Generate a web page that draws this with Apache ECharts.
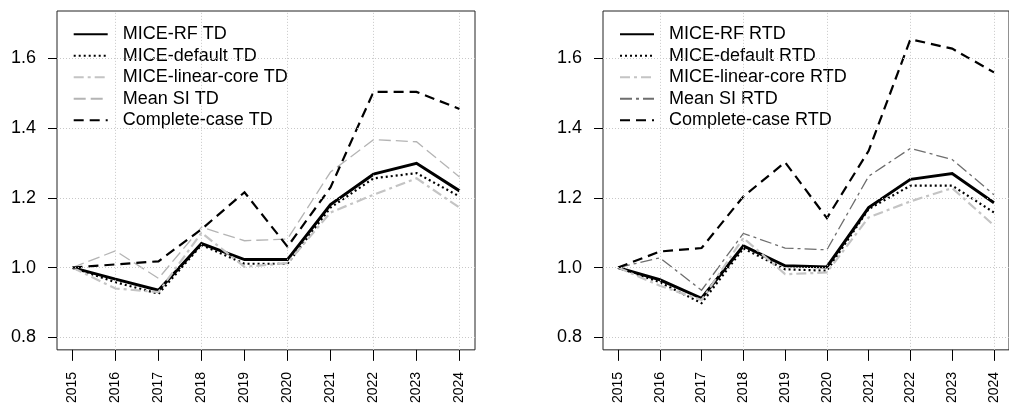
<!DOCTYPE html>
<html>
<head>
<meta charset="utf-8">
<script src="https://cdn.jsdelivr.net/npm/echarts@6/dist/echarts.min.js"></script>
<style>
html,body{margin:0;padding:0;background:#fff;}
#chart{width:1009px;height:406px;}
</style>
</head>
<body>
<div id="chart"></div>
<script>
const years = [2015, 2016, 2017, 2018, 2019, 2020, 2021, 2022, 2023, 2024];
const gridYears = [2016, 2018, 2020, 2022, 2024];
const yTicks = [0.8, 1.0, 1.2, 1.4, 1.6];

const namesTD = ['MICE-RF TD', 'MICE-default TD', 'MICE-linear-core TD', 'Mean SI TD', 'Complete-case TD'];
const namesRTD = ['MICE-RF RTD', 'MICE-default RTD', 'MICE-linear-core RTD', 'Mean SI RTD', 'Complete-case RTD'];

const tdRF       = [1.000, 0.967, 0.935, 1.069, 1.023, 1.023, 1.181, 1.268, 1.299, 1.220];
const tdDefault  = [1.000, 0.958, 0.925, 1.065, 1.011, 1.011, 1.172, 1.256, 1.271, 1.204];
const tdLinear   = [1.000, 0.940, 0.930, 1.100, 1.002, 1.013, 1.158, 1.209, 1.256, 1.172];
const tdMeanSI   = [1.000, 1.048, 0.969, 1.116, 1.077, 1.082, 1.274, 1.367, 1.361, 1.260];
const tdComplete = [1.000, 1.009, 1.018, 1.110, 1.216, 1.060, 1.230, 1.504, 1.504, 1.455];

const rtdRF       = [1.000, 0.965, 0.912, 1.062, 1.005, 1.002, 1.172, 1.253, 1.270, 1.186];
const rtdDefault  = [1.000, 0.958, 0.898, 1.055, 0.995, 0.991, 1.168, 1.235, 1.235, 1.158];
const rtdLinear   = [1.000, 0.948, 0.907, 1.085, 0.981, 0.986, 1.144, 1.190, 1.228, 1.121];
const rtdMeanSI   = [1.000, 1.028, 0.935, 1.098, 1.056, 1.051, 1.262, 1.342, 1.310, 1.209];
const rtdComplete = [1.000, 1.046, 1.056, 1.204, 1.302, 1.142, 1.335, 1.655, 1.628, 1.560];

const FONT = 'Arial, "Liberation Sans", sans-serif';
const styles = [
  {color: '#000000', width: 3, type: 'solid'},
  {color: '#000000', width: 2.2, type: [2, 3]},
  {color: '#c4c4c4', width: 2.2, type: [10, 4, 3, 4]},
  null,
  {color: '#000000', width: 2.2, type: [10, 6]}
];
const meanStyleTD = {color: '#b4b4b4', width: 1.3, type: [12, 5]};
const meanStyleRTD = {color: '#6e6e6e', width: 1.3, type: [12, 4, 3, 4]};

const pad = 0.36;
function xAxisFor(gi) {
  return {
    type: 'value', gridIndex: gi, min: years[0] - pad, max: years[years.length - 1] + pad,
    axisLine: {show: false},
    axisTick: {show: true, inside: false, length: 11, customValues: years, lineStyle: {color: '#000', width: 1}},
    axisLabel: {show: true, customValues: years, rotate: 90, margin: 22, color: '#000', fontSize: 14, fontFamily: FONT,
      formatter: v => String(v)},
    splitLine: {show: false}
  };
}
function yAxisFor(gi) {
  return {
    type: 'value', gridIndex: gi, min: 0.764, max: 1.736,
    axisLine: {show: false},
    axisTick: {show: true, inside: false, length: 9, customValues: yTicks, lineStyle: {color: '#000', width: 1}},
    axisLabel: {show: true, customValues: yTicks, margin: 21, color: '#000', fontSize: 18, fontFamily: FONT,
      formatter: v => Number(v).toFixed(1)},
    splitLine: {show: false}
  };
}
function gridLinesSeries(gi) {
  return {
    type: 'line', xAxisIndex: gi, yAxisIndex: gi, data: [], silent: true, z: 1,
    markLine: {
      silent: true, symbol: ['none', 'none'], label: {show: false}, animation: false,
      lineStyle: {color: '#c8c8c8', width: 1, type: [1, 2]},
      emphasis: {disabled: true},
      data: gridYears.map(v => ({xAxis: v})).concat(yTicks.map(v => ({yAxis: v})))
    }
  };
}
function mk(name, arr, st, gi) {
  return {
    name: name, type: 'line', xAxisIndex: gi, yAxisIndex: gi, z: 3,
    data: years.map((y, i) => [y, arr[i]]),
    symbol: 'none', showSymbol: false, silent: true,
    lineStyle: {color: st.color, width: st.width, type: st.type, cap: 'butt', join: 'miter'},
    itemStyle: {color: st.color},
    emphasis: {disabled: true}
  };
}
const tdArrays = [tdRF, tdDefault, tdLinear, tdMeanSI, tdComplete];
const rtdArrays = [rtdRF, rtdDefault, rtdLinear, rtdMeanSI, rtdComplete];

const series = [gridLinesSeries(0), gridLinesSeries(1)];
namesTD.forEach((n, i) => series.push(mk(n, tdArrays[i], i === 3 ? meanStyleTD : styles[i], 0)));
namesRTD.forEach((n, i) => series.push(mk(n, rtdArrays[i], i === 3 ? meanStyleRTD : styles[i], 1)));

function legendFor(names, left) {
  return {
    data: names, orient: 'vertical', left: left, top: 23.5, itemGap: 0, padding: 0,
    itemWidth: 34, itemHeight: 14, selectedMode: false,
    itemStyle: {opacity: 0, borderWidth: 0},
    textStyle: {color: '#000', fontSize: 18, fontFamily: FONT, lineHeight: 21.5, padding: [0, 0, 0, 10]}
  };
}

const chart = echarts.init(document.getElementById('chart'), null, {renderer: 'canvas'});
chart.setOption({
  animation: false,
  backgroundColor: '#ffffff',
  grid: [
    {left: 57, top: 11, width: 418, height: 346, show: true, borderColor: '#222', borderWidth: 1, backgroundColor: 'transparent'},
    {left: 603, top: 11, width: 418, height: 346, show: true, borderColor: '#222', borderWidth: 1, backgroundColor: 'transparent'}
  ],
  xAxis: [xAxisFor(0), xAxisFor(1)],
  yAxis: [yAxisFor(0), yAxisFor(1)],
  legend: [legendFor(namesTD, 72.7), legendFor(namesRTD, 619)],
  series: series
});
</script>
</body>
</html>
